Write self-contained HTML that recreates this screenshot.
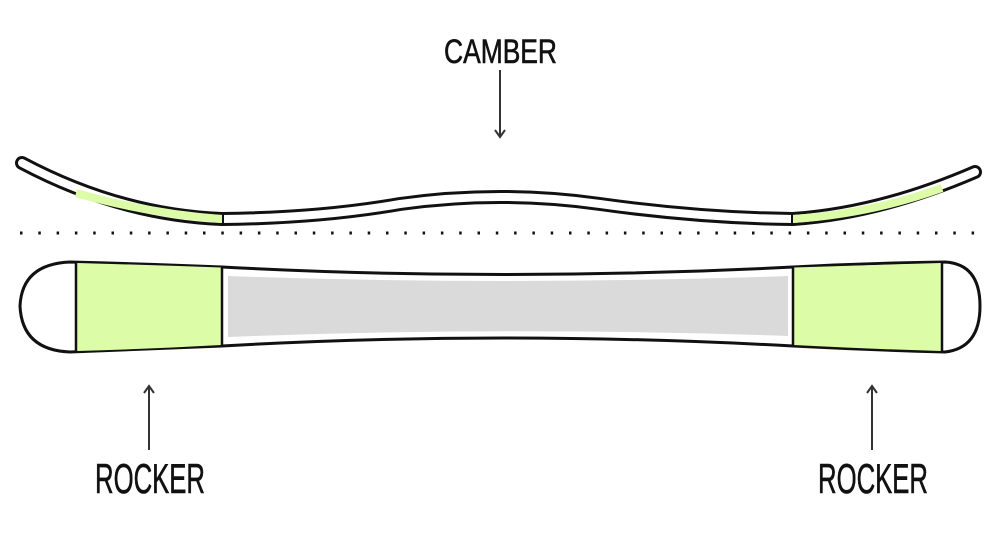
<!DOCTYPE html>
<html><head><meta charset="utf-8"><style>html,body{margin:0;padding:0;background:#fff;}svg{display:block;}</style></head>
<body>
<svg width="1000" height="550" viewBox="0 0 1000 550" xmlns="http://www.w3.org/2000/svg">
<path d="M22,163 Q120,215 222,219 Q320,218 400,204 Q500,190 600,204 Q700,218 793,219 Q880,213 975,172" fill="none" stroke="#111" stroke-width="14" stroke-linecap="round"/>
<path d="M22,163 Q120,215 222,219 Q320,218 400,204 Q500,190 600,204 Q700,218 793,219 Q880,213 975,172" fill="none" stroke="#fff" stroke-width="8" stroke-linecap="round"/>
<path d="M76,193 Q150,214 222,219" fill="none" stroke="#ddfca8" stroke-width="8"/>
<path d="M793,219 Q870,214 942,188" fill="none" stroke="#ddfca8" stroke-width="8"/>
<line x1="223" y1="212" x2="223" y2="226" stroke="#111" stroke-width="2"/>
<line x1="792" y1="212" x2="792" y2="226" stroke="#111" stroke-width="2"/>
<line x1="20" y1="233" x2="985" y2="233" stroke="#111" stroke-width="3" stroke-dasharray="2.5 15.8"/>
<path d="M70,262 Q150,264 222,267 Q500,282 793,267 Q870,263 945,262 Q980,264 980,306 Q980,348 945,352 Q870,350 793,346 Q500,330 222,346 Q150,349 70,352 Q22,350 20,306 Q22,264 70,262 Z" fill="#fff" stroke="#111" stroke-width="3"/>
<path d="M77,263 Q150,265 221,267.5 L221,345 Q150,349 77,351 Z" fill="#ddfca8"/>
<path d="M794,267.5 Q870,265 941,263 L941,351 Q870,349 794,345 Z" fill="#ddfca8"/>
<path d="M228,276 Q500,286 788,276 L788,336 Q500,326 228,337 Z" fill="#dadada"/>
<line x1="76" y1="262" x2="76" y2="352" stroke="#111" stroke-width="2.5"/>
<line x1="222" y1="266" x2="222" y2="347" stroke="#111" stroke-width="2.5"/>
<line x1="793" y1="266" x2="793" y2="347" stroke="#111" stroke-width="2.5"/>
<line x1="942" y1="262" x2="942" y2="352" stroke="#111" stroke-width="2.5"/>
<g font-family="Liberation Sans, sans-serif" fill="#111" stroke="#111" stroke-width="0.6">
<text x="444" y="63" font-size="34" textLength="113" lengthAdjust="spacingAndGlyphs">CAMBER</text>
<text x="95" y="493" font-size="42" textLength="110" lengthAdjust="spacingAndGlyphs">ROCKER</text>
<text x="818" y="493" font-size="42" textLength="110" lengthAdjust="spacingAndGlyphs">ROCKER</text>
</g>
<g stroke="#333" stroke-width="2" fill="none">
<line x1="500" y1="70" x2="500" y2="136"/><path d="M495,130 L500,137 L505,130"/>
<line x1="149" y1="387" x2="149" y2="450"/><path d="M144,393 L149,386 L154,393"/>
<line x1="872" y1="387" x2="872" y2="450"/><path d="M867,393 L872,386 L877,393"/>
</g>
</svg>
</body></html>
